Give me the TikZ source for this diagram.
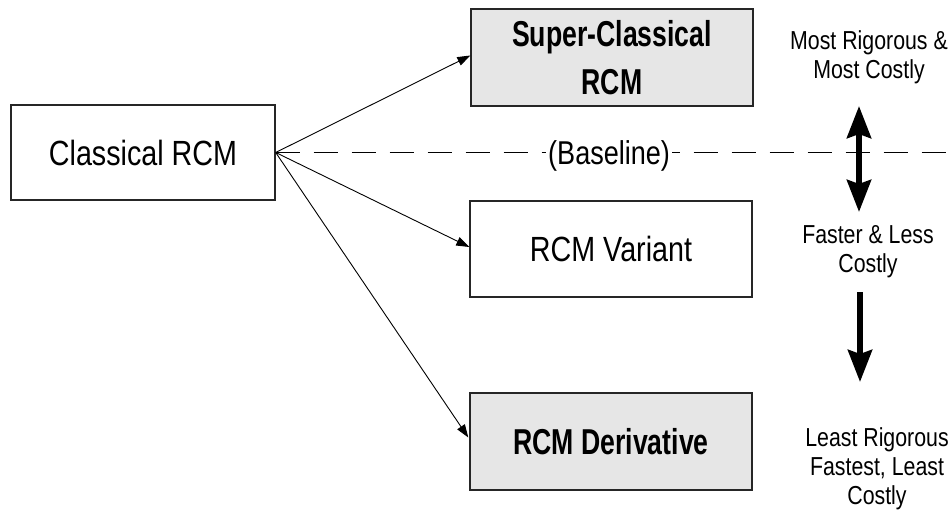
\documentclass[tikz,border=0pt]{standalone}
\usepackage{fontspec}
\setmainfont{Liberation Sans}
\newfontfamily\regf{Liberation Sans}[FakeStretch=0.82]
\newfontfamily\boldf{Liberation Sans Bold}[FakeStretch=0.74]
\usetikzlibrary{arrows.meta,calc}
\definecolor{boxgray}{RGB}{230,230,230}
\tikzset{
  box/.style={draw=black!85, line width=1.4pt, minimum width=282pt, minimum height=96pt, inner sep=0pt, align=center},
  regtext/.style={font=\fontsize{35}{40}\regf},
  boldtext/.style={font=\fontsize{36}{48}\boldf},
  sidetext/.style={font=\fontsize{26}{29}\regf, align=center, inner sep=0pt},
  conn/.style={line width=0.9pt, -{Triangle[width=9pt,length=13pt]}},
  basedash/.style={line width=1.4pt, dash pattern=on 24pt off 14pt},
  bigtip/.tip={Stealth[width=24pt,length=32pt,inset=4pt]},
  bigarrow/.style={line width=6pt, -bigtip},
  bigdouble/.style={line width=6pt, bigtip-bigtip}
}
\begin{document}
\begin{tikzpicture}[x=1pt,y=-1pt]
\useasboundingbox (0,0) rectangle (952,516);
\fill[white] (0,0) rectangle (952,516);

\node[box, regtext, fill=white, minimum width=264pt, minimum height=95pt] (classical) at (143,152.5) {Classical RCM};
\node[box, boldtext, fill=boxgray, minimum height=97pt] (super) at (612,57.5) {Super-Classical\\RCM};
\node[box, regtext, fill=white] (variant) at (611,249) {RCM Variant};
\node[box, boldtext, fill=boxgray, minimum height=97pt] (deriv) at (611,441.5) {RCM Derivative};

\coordinate (dashend) at (952,152.5);
\draw[basedash] (classical.east) -- (dashend);
\node[font=\fontsize{33}{36}\regf, fill=white, inner sep=2pt, anchor=base west] (baseline) at (546,164) {(Baseline)};

\draw[conn] (classical.east) -- ($(super.west)+(0,-2)$);
\draw[conn] (classical.east) -- ($(variant.west)+(0,-2)$);
\draw[conn] (classical.east) -- ($(deriv.west)+(-1,-4)$);

\node[sidetext] (t1) at (869,57) {Most Rigorous \&\\Most Costly};
\node[sidetext] (t2) at (868,252) {Faster \& Less\\Costly};
\node[sidetext] (t3) at (877,469) {Least Rigorous\\Fastest, Least\\Costly};

\coordinate (ua) at (859,106);
\coordinate (ub) at (859,212);
\coordinate (da) at (860,292);
\coordinate (db) at (860,382);
\draw[bigdouble] (ua) -- (ub);
\draw[bigarrow] (da) -- (db);
\end{tikzpicture}
\end{document}
